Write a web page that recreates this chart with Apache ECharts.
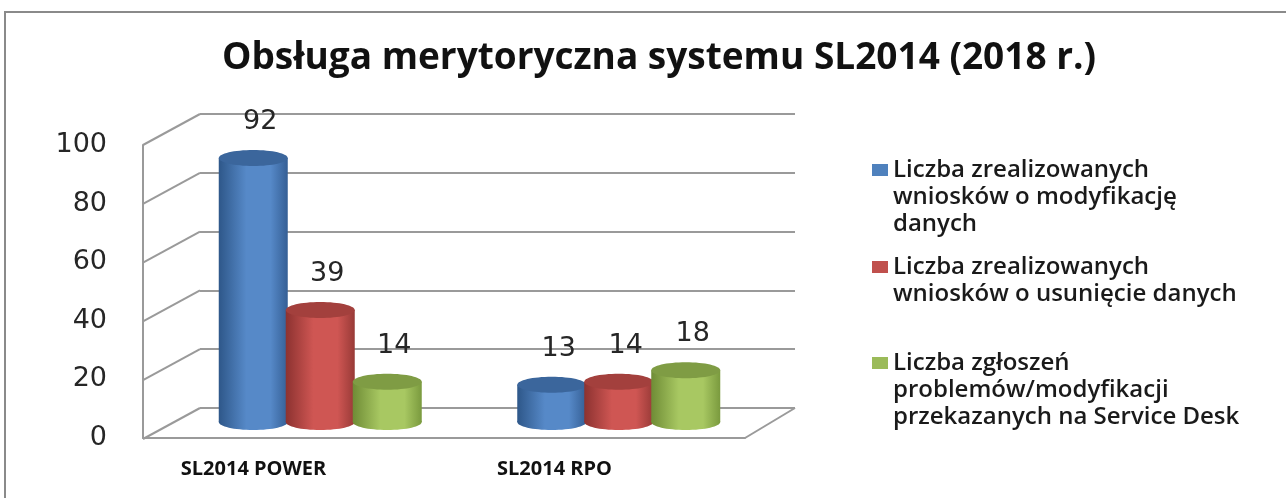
<!DOCTYPE html>
<html lang="pl">
<head>
<meta charset="UTF-8">
<title>Obsługa merytoryczna systemu SL2014</title>
<script src="https://cdn.jsdelivr.net/npm/echarts@6/dist/echarts.min.js"></script>
<style>
    html, body { margin: 0; padding: 0; background: #fff; }
    #chart { width: 1286px; height: 498px; }
</style>
</head>
<body>
<div id="chart"></div>
<script>
    // data
    var categories = ['SL2014 POWER', 'SL2014 RPO'];
    var seriesNames = [
        'Liczba zrealizowanych\nwniosków o modyfikację\ndanych',
        'Liczba zrealizowanych\nwniosków o usunięcie danych',
        'Liczba zgłoszeń\nproblemów/modyfikacji\nprzekazanych na Service Desk'
    ];
    var wnioskiModyfikacja = [92, 13];
    var wnioskiUsuniecie = [39, 14];
    var zgloszeniaSD = [14, 18];
    var yTicks = [0, 20, 40, 60, 80, 100];

    var grad = function (edgeL, mid, edgeR) {
        return new echarts.graphic.LinearGradient(0, 0, 1, 0, [
            { offset: 0, color: edgeL },
            { offset: 0.4, color: mid },
            { offset: 0.75, color: mid },
            { offset: 1, color: edgeR }
        ]);
    };

    var palette = [
        { legend: '#4f81bd', body: grad('#2e5789', '#5689c8', '#355f95'), top: '#3b669c' },
        { legend: '#c0504d', body: grad('#8c3230', '#cf5653', '#983a37'), top: '#a3403d' },
        { legend: '#9bbb59', body: grad('#6f8c36', '#a8c862', '#7a9a3e'), top: '#7f9c44' }
    ];

    // one cylinder per item, k = position inside the group
    function cylinder(k) {
        return function (params, api) {
            var val = api.value(1);
            var base = api.coord([api.value(0), 0]);
            var end = api.coord([api.value(0), val]);
            var cx = base[0] + (k - 1) * 67;
            var rx = 34.5, ry = 8;
            var c = palette[k];
            return {
                type: 'group',
                children: [
                    { type: 'ellipse', shape: { cx: cx, cy: base[1], rx: rx, ry: ry }, style: { fill: c.body } },
                    { type: 'rect', shape: { x: cx - rx, y: end[1], width: rx * 2, height: base[1] - end[1] }, style: { fill: c.body } },
                    { type: 'ellipse', shape: { cx: cx, cy: end[1], rx: rx, ry: ry }, style: { fill: c.top } },
                    {
                        type: 'text', x: cx + 7, y: end[1] - 36,
                        style: {
                            text: String(val), fill: '#262626', align: 'center', verticalAlign: 'middle',
                            font: '27px "DejaVu Sans"'
                        }
                    }
                ]
            };
        };
    }

    // left wall and floor edges, drawn from the back-wall tick values
    function walls(params, api) {
        var v = api.value(0);
        var p = api.coord([0, v]);
        var children = [{
            type: 'line', shape: { x1: p[0], y1: p[1], x2: p[0] - 57, y2: p[1] + 31 },
            style: { stroke: '#9a9a9a', lineWidth: 2 }
        }];
        if (v === 0) {
            var q = api.coord([1, 0]);
            children.push({
                type: 'line', shape: { x1: q[0], y1: q[1], x2: q[0] - 50, y2: q[1] + 30 },
                style: { stroke: '#9a9a9a', lineWidth: 2 }
            });
        }
        return { type: 'group', children: children };
    }

    var seriesData = [wnioskiModyfikacja, wnioskiUsuniecie, zgloszeniaSD];

    var series = [{
        type: 'custom',
        xAxisIndex: 0,
        yAxisIndex: 0,
        clip: false,
        silent: true,
        renderItem: walls,
        data: yTicks.map(function (t) { return [t]; })
    }];
    seriesData.forEach(function (vals, k) {
        series.push({
            type: 'custom',
            name: seriesNames[k],
            xAxisIndex: 2,
            yAxisIndex: 2,
            clip: false,
            itemStyle: { color: palette[k].legend },
            renderItem: cylinder(k),
            encode: { x: 0, y: 1 },
            data: vals.map(function (v, i) { return [i, v]; })
        });
    });

    // legend text is centred on the icon, so blank lines go on top
    // to bring the first line level with the icon
    function legendAt(k, iconY) {
        var lines = seriesNames[k].split('\n').length;
        var pad = new Array(lines).join('\n');
        return {
            data: [seriesNames[k]],
            left: 872,
            top: iconY - (2 * lines - 1) * 27 / 2,
            padding: 0,
            icon: 'rect',
            itemWidth: 16,
            itemHeight: 12,
            itemGap: 5,
            selectedMode: false,
            formatter: function (name) { return pad + name; },
            textStyle: {
                color: '#1a1a1a',
                fontFamily: 'Open Sans',
                fontWeight: 600,
                fontSize: 24,
                lineHeight: 27
            }
        };
    }

    var chart = echarts.init(document.getElementById('chart'));
    chart.setOption({
        backgroundColor: '#fff',
        animation: false,
        title: {
            text: 'Obsługa merytoryczna systemu SL2014 (2018 r.)',
            left: 654,
            top: 35,
            textAlign: 'center',
            textStyle: { fontFamily: 'Open Sans', fontWeight: 700, fontSize: 37, color: '#111' }
        },
        legend: [
            legendAt(0, 170),
            legendAt(1, 267),
            legendAt(2, 363)
        ],
        grid: [
            // back wall
            { left: 200, top: 114, width: 595, height: 294 },
            // front edge, carries the axis labels
            { left: 143, top: 145, width: 602, height: 293 },
            // cylinders, mid depth
            { left: 171, top: 135, width: 597, height: 287 }
        ],
        xAxis: [
            { gridIndex: 0, type: 'value', min: 0, max: 1, show: false },
            {
                gridIndex: 1, type: 'category', data: categories,
                axisLine: { lineStyle: { color: '#9a9a9a', width: 2 } },
                axisTick: { show: false },
                axisLabel: {
                    margin: 21, padding: [0, 80, 0, 0],
                    fontFamily: 'Open Sans', fontWeight: 700, fontSize: 20, color: '#111'
                }
            },
            { gridIndex: 2, type: 'category', data: categories, show: false }
        ],
        yAxis: [
            {
                gridIndex: 0, type: 'value', min: 0, max: 100, interval: 20,
                axisLine: { show: false }, axisTick: { show: false }, axisLabel: { show: false },
                splitLine: { lineStyle: { color: '#9a9a9a', width: 2 } }
            },
            {
                gridIndex: 1, type: 'value', min: 0, max: 100, interval: 20,
                axisLine: { show: true, lineStyle: { color: '#9a9a9a', width: 2 } },
                axisTick: { show: false },
                splitLine: { show: false },
                axisLabel: { margin: 36, fontFamily: 'DejaVu Sans', fontSize: 27, color: '#262626' }
            },
            { gridIndex: 2, type: 'value', min: 0, max: 100, show: false }
        ],
        graphic: [{
            type: 'rect',
            silent: true,
            shape: { x: 5, y: 12, width: 1320, height: 520 },
            style: { fill: 'none', stroke: '#8a8a8a', lineWidth: 2 }
        }],
        series: series
    });
</script>
</body>
</html>
